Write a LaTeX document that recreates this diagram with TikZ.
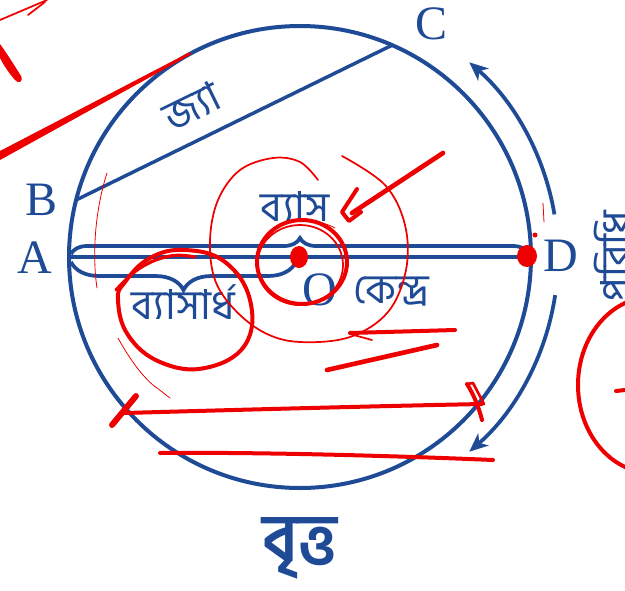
\documentclass[tikz,border=0pt]{standalone}
\usepackage{fontspec}
\setmainfont{Liberation Serif}
\newfontfamily\bn[Script=Bengali]{Hind Siliguri}
\usetikzlibrary{decorations.pathreplacing,arrows.meta,calc}
\definecolor{dblue}{RGB}{30,74,150}
\definecolor{pen}{RGB}{238,0,0}
\tikzset{
  geo/.style={draw=dblue,line width=3pt},
  latin/.style={text=dblue,font=\fontsize{36}{36}\selectfont,inner sep=0pt},
  bnlab/.style={text=dblue,font=\bn\fontsize{31}{31}\selectfont,inner sep=0pt},
  bracestyle/.style={draw=dblue,line width=2.8pt,decorate},
  arcarrow/.style={draw=dblue,line width=2.8pt,-{Stealth[length=14pt,width=12pt,inset=4pt]}},
  redthick/.style={draw=pen,line width=3pt,line cap=round,line join=round},
  redmid/.style={draw=pen,line width=1.3pt,line cap=round,line join=round},
  redthin/.style={draw=pen,line width=0.6pt,line cap=round,line join=round}
}
\begin{document}
\begin{tikzpicture}[x=0.75pt,y=-0.75pt]
\useasboundingbox (0,0) rectangle (625,590);
\fill[white] (0,0) rectangle (625,590);
% main geometry
\coordinate (O) at (300,257);
\draw[geo] (O) circle[radius=231];
\coordinate (A) at (69,257);
\coordinate (D) at (531,257);
\coordinate (B) at ($(O)+(-165.7:231)$);
\coordinate (C) at ($(O)+(-66.5:231)$);
\draw[geo,line width=2.4pt] (A) -- (D);
\draw[geo,line width=2.6pt] (B) -- (C);
% braces
\draw[bracestyle,decoration={brace,amplitude=12pt}] (71,254) -- (529,254);
\draw[bracestyle,decoration={brace,amplitude=21pt}] (296,262) -- (71,262);
% arc arrows
\draw[arcarrow] ($(O)+(-9.5:258)$) arc[start angle=-9.5,end angle=-49,radius=258];
\draw[arcarrow] ($(O)+(8.5:258)$) arc[start angle=8.5,end angle=49,radius=258];
% labels
\node[latin] (lB) at (42,200) {B};
\node[latin] (lA) at (35,258) {A};
\node[latin] (lC) at (432,24) {C};
\node[latin] (lD) at (561,256) {D};
\node[latin] (lO) at (320,290) {O};
\node[bnlab] (kendra) at (391,292) {কেন্দ্র};
\node[bnlab] (byas) at (295,206) {ব্যাস};
\node[bnlab] (byasardha) at (183,302) {ব্যাসার্ধ};
\node[bnlab,rotate=26] (jya) at (192,106) {জ্যা};
\node[bnlab,font=\bn\bfseries\fontsize{50}{50}\selectfont] (britta) at (300,548) {বৃত্ত};
\node[bnlab,rotate=90,anchor=north] (paridhi) at (594,256) {পরিধি};
% ---- red pen annotations ----
\draw[redmid] (0,20) -- (47,0);
\draw[redmid] (28,15) -- (45,2);
\fill[pen] (0,44) .. controls (8,55) and (16,68) .. (21,76) .. controls (24,82) and (18,84) .. (15,80) .. controls (8,72) and (3,64) .. (0,58) -- cycle;
\fill[pen] (0,151) -- (190,52) -- (191,54.5) -- (0,160) -- cycle;
\draw[redthin] (107,173) .. controls (95,210) and (92,255) .. (97,288);
\draw[redthin] (118,338) .. controls (130,360) and (145,380) .. (157,388) -- (170,398);
% loop around byasardha
\draw[redthick] plot[smooth cycle,tension=0.7] coordinates {(125,282) (150,258) (185,250) (225,262) (250,300) (245,345) (205,368) (160,362) (128,335) (118,300)};
\draw[redthick,line width=2.4pt] plot[smooth,tension=0.7] coordinates {(116,290) (140,268) (170,256) (195,257)};
% spiral around byas
\draw[redmid] plot[smooth,tension=0.6] coordinates {(318,180) (300,162) (273,158) (240,170) (218,200) (210,240) (215,280) (235,310) (265,333) (300,342) (350,337) (388,312) (406,270) (405,225) (385,185) (342,156)};
% circle round O
\draw[redthick] (302,262) ellipse[x radius=45,y radius=42];
\draw[redmid] (300,265) ellipse[x radius=43,y radius=40];
\draw[redthin] (285,222) .. controls (300,218) and (320,220) .. (335,228);
% dots
\fill[pen] (299,257) ellipse[x radius=9,y radius=11];
\fill[pen] (527,256) ellipse[x radius=10,y radius=11];
\fill[pen] (535,235) circle[radius=2.5];
\draw[redthin] (543,203) -- (544,222);
% arrow pointing to byas
\draw[redthick,line width=3.5pt] (443,153) -- (352,213);
\draw[redthick] (357,189) -- (342,212) -- (349,221) -- (361,212);
% strokes below kendra
\draw[redthick] (350,333) -- (455,330);
\draw[redmid] (350,334) -- (372,340);
\draw[redthick,line width=3.5pt] (327,370) -- (437,345);
% long line with ticks
\draw[redthick] (125,413) .. controls (230,410) and (380,406) .. (482,404);
\draw[redthick,line width=4.5pt] (112,425) -- (136,396);
\draw[redthick] (467,384) .. controls (474,395) and (479,408) .. (482,420);
\draw[redthick,line width=2pt] (467,384) -- (473,383) -- (484,404);
% lower line
\draw[redthick] (160,453) .. controls (260,452) and (400,456) .. (493,460);
% big circle at right
\draw[redthick] (652,385) ellipse[x radius=74,y radius=88];
\draw[redthick] (616,391) -- (625,390);
\end{tikzpicture}
\end{document}
